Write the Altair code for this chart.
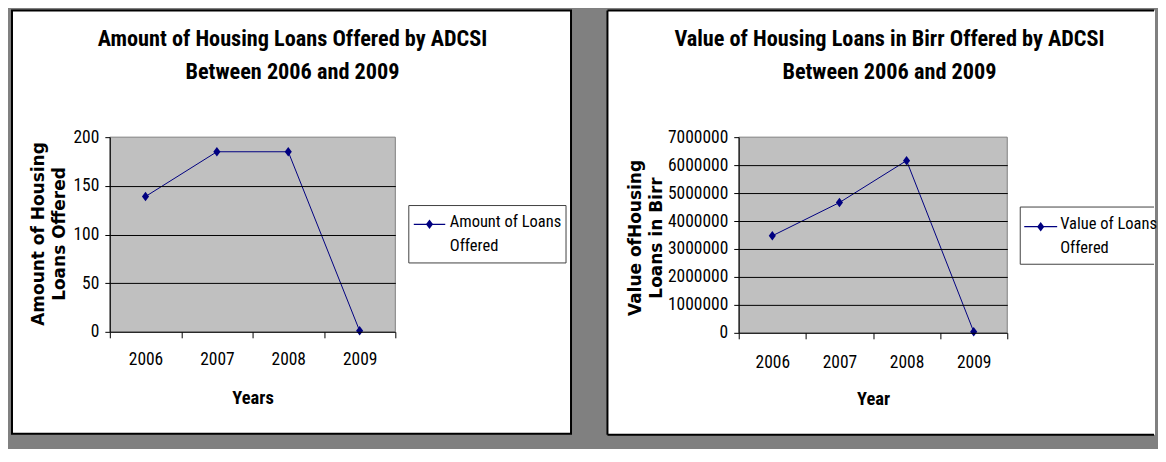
import altair as alt
import pandas as pd

# ---------------- data ----------------
years = ["2006", "2007", "2008", "2009"]
loans_amount = [139, 185, 185, 1]
loans_value_birr = [3470000, 4660000, 6160000, 40000]
amount_ticks = [0, 50, 100, 150, 200]
value_ticks = [0, 1000000, 2000000, 3000000, 4000000, 5000000, 6000000, 7000000]

title_left = ["Amount of Housing Loans Offered by ADCSI", "Between 2006 and 2009"]
title_right = ["Value of Housing Loans in Birr Offered by ADCSI", "Between 2006 and 2009"]
ytitle_left = ["Amount of Housing", "Loans Offered"]
ytitle_right = ["Value ofHousing", "Loans in Birr"]
xtitle_left = "Years"
xtitle_right = "Year"
legend_left = ["Amount of Loans", "Offered"]
legend_right = ["Value of Loans", "Offered"]

# ---------------- styling ----------------
NAVY = "#000080"
SANS = "Roboto Condensed, Liberation Sans, Arial, sans-serif"
WIDE = "DejaVu Sans, Verdana, sans-serif"
DIAMOND = "M0,-1L0.75,0L0,1L-0.75,0Z"
ONE = alt.Data(values=[{}])


def rect(x1, x2, y1, y2, **kw):
    return alt.Chart(ONE).mark_rect(**kw).encode(
        x=alt.value(x1), x2=alt.value(x2), y=alt.value(y1), y2=alt.value(y2))


def hrule(x1, x2, y, **kw):
    return alt.Chart(ONE).mark_rule(**kw).encode(x=alt.value(x1), x2=alt.value(x2), y=alt.value(y))


def vrule(x, y1, y2, **kw):
    return alt.Chart(ONE).mark_rule(**kw).encode(x=alt.value(x), y=alt.value(y1), y2=alt.value(y2))


def frame(x1, x2, y1, y2, open_right, color, sw):
    if not open_right:
        return [rect(x1, x2, y1, y2, fill="white", stroke=color, strokeWidth=sw)]
    return [
        rect(x1, x2, y1, y2, fill="white"),
        hrule(x1, x2 - 1, y1, color=color, strokeWidth=sw),
        hrule(x1, x2 - 1, y2, color=color, strokeWidth=sw),
        vrule(x1, y1, y2, color=color, strokeWidth=sw),
    ]


def text(lines, x, y, size, weight="normal", align="center", lh=None, font=SANS):
    kw = dict(font=font, fontSize=size, fontWeight=weight, align=align,
              baseline="middle", color="black")
    if lh:
        kw["lineHeight"] = lh
    return alt.Chart(ONE).mark_text(**kw).encode(
        x=alt.value(x), y=alt.value(y), text=alt.value(lines))


def panel(vals, ticks, ymax, W, H, box, open_right, title, title_cx, title_y,
          ytitle, ytx, yty, xtitle, xlab_pad, leg_box, leg_line, leg_y, leg_text_x,
          leg_text_y, leg_size, leg_lines):
    df = pd.DataFrame({"Year": years, "Value": vals})
    x = alt.X("Year:N", bandPosition=0.5,
              scale=alt.Scale(type="band", paddingInner=0, paddingOuter=0),
              axis=alt.Axis(title=xtitle, titleFont=SANS, titleFontSize=18.5,
                            titleFontWeight="bold", titleColor="black", titleY=66,
                            titleBaseline="middle", labelAngle=0, labelFont=SANS,
                            labelFontSize=17.5, labelColor="black", labelPadding=xlab_pad,
                            labelBaseline="middle", tickBand="extent", tickSize=6,
                            tickColor="black", domainColor="black", grid=False, zindex=1))
    y = alt.Y("Value:Q",
              scale=alt.Scale(domain=[0, ymax], nice=False, zero=True),
              axis=alt.Axis(values=ticks, format="d", title=ytitle, titleFont=WIDE,
                            titleFontSize=17, titleFontWeight="bold", titleColor="black",
                            titleAngle=270, titleX=ytx, titleY=yty, titleAlign="center",
                            titleBaseline="middle", titleLineHeight=21,
                            labelFont=SANS, labelFontSize=17.5, labelColor="black",
                            labelPadding=6, tickSize=5, tickColor="black",
                            domainColor="black", grid=True,
                            gridColor={"condition": {"test": f"datum.value >= {ymax} || datum.value <= 0",
                                                     "value": "transparent"},
                                       "value": "black"},
                            gridWidth=1, gridOpacity=1, zindex=1))
    line = alt.Chart(df).mark_line(color=NAVY, strokeWidth=1).encode(x=x, y=y)
    pts = alt.Chart(df).mark_point(shape=DIAMOND, filled=True, size=90, color=NAVY,
                                   opacity=1).encode(x=x, y=y)

    layers = []
    layers += frame(*box, open_right, "black", 2)
    layers.append(rect(0, W, 0, H, fill="#C0C0C0", stroke="#808080", strokeWidth=1))
    layers.append(text(title, title_cx, title_y, 22.3, weight="bold", lh=33))
    layers += frame(*leg_box, open_right, "#404040", 1)
    layers.append(hrule(leg_line[0], leg_line[1], leg_y, color=NAVY, strokeWidth=1.2))
    layers.append(alt.Chart(ONE).mark_point(shape=DIAMOND, filled=True, size=90, color=NAVY,
                                            opacity=1).encode(
        x=alt.value((leg_line[0] + leg_line[1]) / 2), y=alt.value(leg_y)))
    layers.append(text(leg_lines, leg_text_x, leg_text_y, leg_size, align="left", lh=24))
    layers += [line, pts]
    return alt.layer(*layers).properties(width=W, height=H)


left = panel(loans_amount, amount_ticks, 200, 286, 195,
             (-98, 462, -127, 297), False,
             title_left, 183, -98,
             ytitle_left, -71, 96.5, xtitle_left, 22,
             (299.5, 457, 68.5, 126), (304.5, 336), 87.3, 340.5, 85, 16.5, legend_left)

right = panel(loans_value_birr, value_ticks, 7000000, 269, 196,
              (-131.5, 417, -127, 298), True,
              title_right, 151, -98,
              ytitle_right, -103, 100.5, xtitle_right, 23.7,
              (282, 417, 70, 127.3), (286, 319), 89.7, 322, 87, 16.5, legend_right)

chart = alt.hconcat(left, right, spacing=344, bounds="flush").properties(
    background="#808080",
    padding={"left": 2, "top": 0, "right": 0, "bottom": 12},
).configure_view(stroke="transparent")

chart.save("out.html", embed_options={"renderer": "svg", "actions": False})
